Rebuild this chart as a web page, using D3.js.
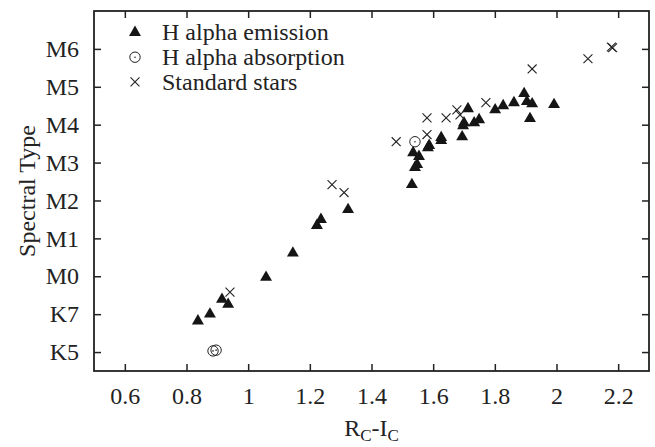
<!DOCTYPE html>
<html lang="en">
<head>
<meta charset="UTF-8">
<title>Spectral Type vs RC-IC</title>
<script src="https://cdn.jsdelivr.net/npm/d3@7"></script>
<style>
    body { margin: 0; background: #fff; }
    text { font-family: "Liberation Serif", "Times New Roman", serif; fill: #222; }
</style>
</head>
<body>
<svg width="655" height="447"></svg>
<script>

    // spectral type coded as number: K5=-2, K7=-1, M0=0 ... M6=6
    var emissionX = [0.837, 0.876, 0.915, 0.935, 1.058, 1.145, 1.223, 1.236, 1.324, 1.531,
        1.535, 1.554, 1.548, 1.541, 1.587, 1.583, 1.626, 1.626, 1.694, 1.697,
        1.700, 1.713, 1.733, 1.749, 1.801, 1.827, 1.862, 1.895, 1.904, 1.921,
        1.914, 1.992];
    var emissionY = [-1.18, -1.0, -0.61, -0.74, -0.03, 0.61, 1.34, 1.50, 1.76, 2.42,
        3.26, 3.16, 2.95, 2.87, 3.45, 3.39, 3.66, 3.58, 3.68, 3.97,
        4.05, 4.42, 4.05, 4.13, 4.39, 4.50, 4.58, 4.82, 4.61, 4.55,
        4.16, 4.53];

    var absorptionX = [1.541, 0.886, 0.896];
    var absorptionY = [3.55, -1.97, -1.95];

    var standardX = [0.941, 1.272, 1.311, 1.480, 1.580, 1.580, 1.642, 1.677, 1.687, 1.771,
        1.921, 2.102, 2.178, 2.182];
    var standardY = [-0.42, 2.42, 2.21, 3.55, 4.18, 3.74, 4.18, 4.39, 4.26, 4.58,
        5.47, 5.74, 6.05, 6.03];

    var xTicks = [0.6, 0.8, 1.0, 1.2, 1.4, 1.6, 1.8, 2.0, 2.2];
    var yTicks = [-2, -1, 0, 1, 2, 3, 4, 5, 6];
    var yTickLabels = ["K5", "K7", "M0", "M1", "M2", "M3", "M4", "M5", "M6"];

    var legendNames = ["H alpha emission", "H alpha absorption", "Standard stars"];

    var serif = "'Liberation Serif', 'Times New Roman', serif";

    var svg = d3.select("svg"),
        margin = {top: 11, right: 6, bottom: 76, left: 94},
        width = +svg.attr("width") - margin.left - margin.right,
        height = +svg.attr("height") - margin.top - margin.bottom;

    var g = svg.append("g").attr("transform", "translate(" + margin.left + "," + margin.top + ")");

    var x = d3.scaleLinear().domain([0.5, 2.3]).range([0, width]);
    var y = d3.scaleLinear().domain([-2.5, 7]).range([height, 0]);

    var ink = "#222";

    // axes
    var xAxis = g.append("g")
        .attr("transform", "translate(0," + height + ")")
        .call(d3.axisBottom(x).tickValues(xTicks).tickSizeInner(-7).tickSizeOuter(0).tickPadding(16)
            .tickFormat(function (d) { return String(+d.toFixed(1)); }));
    var yAxis = g.append("g")
        .call(d3.axisLeft(y).tickValues(yTicks).tickSizeInner(-7).tickSizeOuter(0).tickPadding(15)
            .tickFormat(function (d, i) { return yTickLabels[i]; }));
    // mirrored ticks on top and right
    var xTop = g.append("g")
        .call(d3.axisTop(x).tickValues(xTicks).tickSizeInner(-7).tickSizeOuter(0).tickFormat(""));
    var yRight = g.append("g")
        .attr("transform", "translate(" + width + ",0)")
        .call(d3.axisRight(y).tickValues(yTicks).tickSizeInner(-7).tickSizeOuter(0).tickFormat(""));

    [xAxis, yAxis, xTop, yRight].forEach(function (a) {
        a.attr("font-family", serif).attr("font-size", 24);
        a.select(".domain").remove();
        a.selectAll("line").attr("stroke", ink).attr("stroke-width", 1.5);
        a.selectAll("text").attr("fill", ink).style("font-family", serif);
    });

    g.append("rect")
        .attr("width", width).attr("height", height)
        .attr("fill", "none").attr("stroke", ink).attr("stroke-width", 1.8);

    // axis titles
    var xt = svg.append("text")
        .attr("x", margin.left + width / 2).attr("y", 436)
        .attr("text-anchor", "middle").attr("font-size", 24);
    xt.append("tspan").text("R");
    xt.append("tspan").attr("font-size", 17).attr("dy", 5).text("C");
    xt.append("tspan").attr("dy", -5).text("-I");
    xt.append("tspan").attr("font-size", 17).attr("dy", 5).text("C");

    svg.append("text")
        .attr("transform", "translate(35," + (margin.top + height / 2) + ") rotate(-90)")
        .attr("text-anchor", "middle").attr("font-size", 24)
        .text("Spectral Type");

    // markers
    var tri = d3.symbol().type(d3.symbolTriangle).size(62);
    var cross = d3.symbol().type(d3.symbolTimes).size(54);

    function drawTriangle(sel, px, py) {
        sel.append("path").attr("d", tri)
            .attr("transform", "translate(" + px + "," + py + ")")
            .attr("fill", "#151515");
    }
    function drawCircle(sel, px, py) {
        sel.append("circle").attr("cx", px).attr("cy", py).attr("r", 5.2)
            .attr("fill", "none").attr("stroke", ink).attr("stroke-width", 1);
        sel.append("circle").attr("cx", px).attr("cy", py).attr("r", 0.8).attr("fill", ink);
    }
    function drawCross(sel, px, py) {
        sel.append("path").attr("d", cross)
            .attr("transform", "translate(" + px + "," + py + ")")
            .attr("fill", "none").attr("stroke", ink).attr("stroke-width", 1.1);
    }

    var pts = g.append("g");
    emissionX.forEach(function (d, i) { drawTriangle(pts, x(d), y(emissionY[i])); });
    absorptionX.forEach(function (d, i) { drawCircle(pts, x(d), y(absorptionY[i])); });
    standardX.forEach(function (d, i) { drawCross(pts, x(d), y(standardY[i])); });

    // legend
    var legend = svg.append("g");
    var drawers = [drawTriangle, drawCircle, drawCross];
    legendNames.forEach(function (name, i) {
        var cy = 32.5 + i * 24.7;
        drawers[i](legend, 135, cy);
        legend.append("text").attr("x", 162).attr("y", cy + 7.8)
            .attr("font-size", 24).text(name);
    });

</script>
</body>
</html>
